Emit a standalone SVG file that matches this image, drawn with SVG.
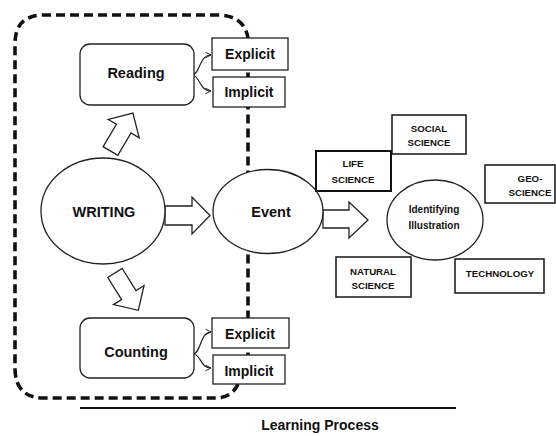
<svg xmlns="http://www.w3.org/2000/svg" width="556" height="436" viewBox="0 0 556 436">
<style>
text{font-family:"Liberation Sans",Arial,sans-serif;font-weight:bold;fill:#111;text-anchor:middle}
.big{font-size:14.5px}
.mid{font-size:14px}
.sm{font-size:9.7px}
.node{fill:#fff;stroke:#222;stroke-width:1.3}
.thick{fill:#fff;stroke:#111;stroke-width:2}
.blk{fill:#fff;stroke:#222;stroke-width:1.3;stroke-linejoin:miter}
.curl{fill:none;stroke:#222;stroke-width:1.2}
</style>
<defs>
<marker id="chev" viewBox="0 0 10 10" refX="9" refY="5" markerWidth="7" markerHeight="7" markerUnits="userSpaceOnUse" orient="auto">
<path d="M1 1 L9 5 L1 9" fill="none" stroke="#222" stroke-width="1.4"/>
</marker>
<path id="barrow" d="M0 -8.5 L26 -8.5 L26 -18 L44 0 L26 18 L26 8.5 L0 8.5 Z"/>
</defs>
<g id="boundary">
<path d="M238 384 Q232 398 215 398 L44 398 Q15 398 15 368 L15 44 Q15 15 44 15 L217 15 Q244 15 248 38 L248 384" fill="none" stroke="#111" stroke-width="3.6" stroke-dasharray="9 5"/>
</g>
<g id="connectors">
<use href="#barrow" class="blk" transform="translate(110.5 151) rotate(-59.4)"/>
<use href="#barrow" class="blk" transform="translate(115 273) rotate(58)"/>
<path class="blk" d="M165 206 L192 206 L192 197 L210 215.5 L192 234 L192 225 L165 225 Z"/>
<path class="blk" d="M323 210 L349 210 L349 202 L368 220 L349 238 L349 228 L323 228 Z"/>
<path class="curl" d="M192 75 C200 75 199 55 211 55" marker-end="url(#chev)"/>
<path class="curl" d="M192 75 C200 75 199 91 211 91" marker-end="url(#chev)"/>
<path class="curl" d="M193 354 C201 354 200 332 211 332" marker-end="url(#chev)"/>
<path class="curl" d="M193 354 C201 354 200 368 211 368" marker-end="url(#chev)"/>
</g>
<g id="reading"><rect class="node" x="80" y="44" width="114" height="61" rx="10"/><text class="big" x="136" y="78">Reading</text></g>
<g id="explicit1"><rect class="node" x="212" y="38" width="76" height="32"/><text class="mid" x="250" y="59">Explicit</text></g>
<g id="implicit1"><rect class="node" x="213" y="77" width="72" height="30"/><text class="mid" x="249" y="97">Implicit</text></g>
<g id="writing"><ellipse class="node" cx="103" cy="211" rx="62" ry="53"/><text class="big" x="104" y="217">WRITING</text></g>
<g id="event"><ellipse class="node" cx="268" cy="211.5" rx="55" ry="42"/><text class="big" x="271" y="217">Event</text></g>
<g id="counting"><rect class="node" x="80" y="318" width="114" height="60" rx="10"/><text class="big" x="136" y="357">Counting</text></g>
<g id="explicit2"><rect class="node" x="212" y="318" width="77" height="30"/><text class="mid" x="250" y="339">Explicit</text></g>
<g id="implicit2"><rect class="node" x="213" y="355" width="72" height="29"/><text class="mid" x="249" y="376">Implicit</text></g>
<g id="identifying"><ellipse class="node" cx="435" cy="220" rx="48" ry="40"/><text style="font-size:10px" x="434" y="213">Identifying</text><text style="font-size:10px" x="434" y="229">Illustration</text></g>
<g id="social"><rect class="node" x="392" y="115" width="74" height="39" style="stroke-width:1.6"/><text class="sm" x="429" y="132">SOCIAL</text><text class="sm" x="429" y="146">SCIENCE</text></g>
<g id="life"><rect class="thick" x="316" y="151" width="75" height="40"/><text class="sm" x="353" y="167">LIFE</text><text class="sm" x="353" y="183">SCIENCE</text></g>
<g id="geo"><rect class="node" x="485" y="165" width="70" height="38" style="stroke-width:1.6"/><text class="sm" x="530" y="182">GEO-</text><text class="sm" x="530" y="196">SCIENCE</text></g>
<g id="natural"><rect class="node" x="336" y="257" width="75" height="40" style="stroke-width:1.6"/><text class="sm" x="373" y="275">NATURAL</text><text class="sm" x="373" y="289">SCIENCE</text></g>
<g id="technology"><rect class="node" x="455" y="259" width="89" height="34" style="stroke-width:1.6"/><text class="sm" x="500" y="277">TECHNOLOGY</text></g>
<g id="learning">
<line x1="80" y1="408" x2="456" y2="408" stroke="#111" stroke-width="2"/>
<text class="mid" x="320" y="430">Learning Process</text>
</g>
</svg>
